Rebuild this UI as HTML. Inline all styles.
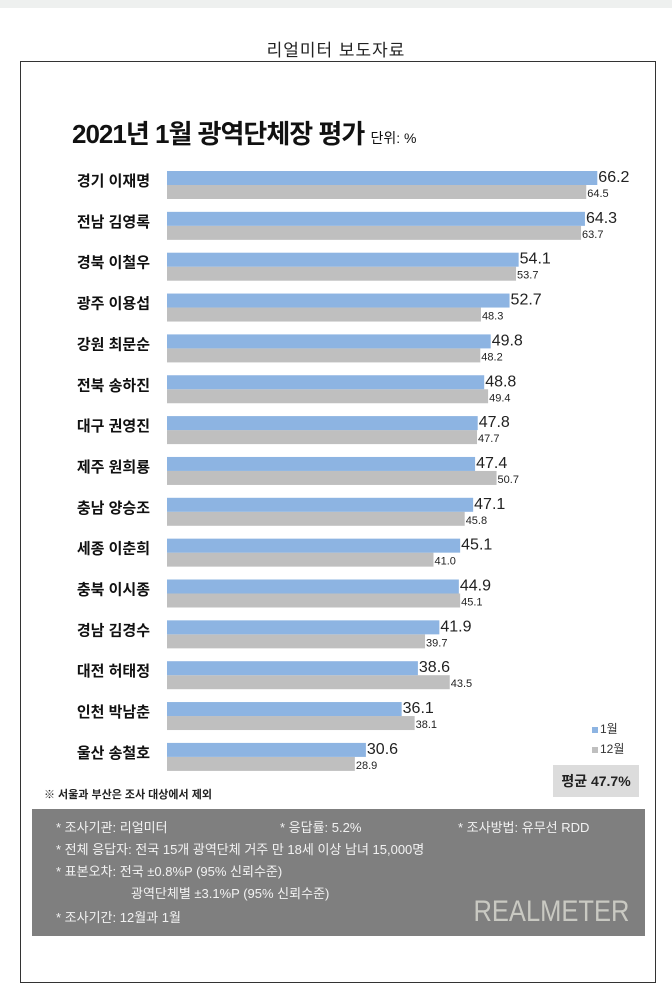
<!DOCTYPE html>
<html><head><meta charset="utf-8">
<style>
body{margin:0;width:672px;height:996px;background:#fff;position:relative;overflow:hidden;font-family:"Liberation Sans","Noto Sans CJK KR",sans-serif;}
.abs{position:absolute;}
</style></head><body>
<div class="abs" style="left:0;top:0;width:672px;height:8px;background:#eef0ef"></div>
<div class="abs" style="left:0;width:672px;top:36px;text-align:center;font-size:17px;color:#222;letter-spacing:1px">리얼미터 보도자료</div>
<div class="abs" style="left:20px;top:61px;width:634px;height:920px;border:1.5px solid #333"></div>
<div class="abs" style="left:72px;top:114px;font-size:26px;font-weight:bold;color:#111;letter-spacing:-1px">2021년 1월 광역단체장 평가 <span style="font-size:14px;font-weight:normal;letter-spacing:0">단위: %</span></div>
<svg class="abs" id="chart" style="left:0;top:0" width="672" height="800"></svg>
<div class="abs" style="left:592px;top:720px;font-size:12px;color:#333"><span style="display:inline-block;width:6px;height:6px;background:#8db4e2;margin-right:2px"></span>1월</div>
<div class="abs" style="left:592px;top:740px;font-size:12px;color:#333"><span style="display:inline-block;width:6px;height:6px;background:#bfbfbf;margin-right:2px"></span>12월</div>
<div class="abs" style="left:553px;top:765px;width:86px;height:32px;background:#dcdcdc;font-size:14px;font-weight:bold;line-height:32px;text-align:center;color:#222">평균 47.7%</div>
<div class="abs" style="left:44px;top:786px;font-size:11px;font-weight:bold;color:#222">※ 서울과 부산은 조사 대상에서 제외</div>
<div class="abs" style="left:32px;top:809px;width:613px;height:127px;background:#7f7f7f;color:#f2f2f2;font-size:13px">
<div class="abs" style="left:24px;top:8px">* 조사기관: 리얼미터</div>
<div class="abs" style="left:248px;top:8px">* 응답률: 5.2%</div>
<div class="abs" style="left:426px;top:8px">* 조사방법: 유무선 RDD</div>
<div class="abs" style="left:24px;top:30px">* 전체 응답자: 전국 15개 광역단체 거주 만 18세 이상 남녀 15,000명</div>
<div class="abs" style="left:24px;top:52px">* 표본오차: 전국 ±0.8%P (95% 신뢰수준)</div>
<div class="abs" style="left:99px;top:74px">광역단체별 ±3.1%P (95% 신뢰수준)</div>
<div class="abs" style="left:24px;top:98px">* 조사기간: 12월과 1월</div>
<div class="abs" style="right:16px;top:86px;font-size:30px;color:#c9c9c2;letter-spacing:0px;transform:scaleX(0.85);transform-origin:right">REALMETER</div>
</div>
<script>
const names=["경기 이재명","전남 김영록","경북 이철우","광주 이용섭","강원 최문순","전북 송하진","대구 권영진","제주 원희룡","충남 양승조","세종 이춘희","충북 이시종","경남 김경수","대전 허태정","인천 박남춘","울산 송철호"];
const jan=[66.2,64.3,54.1,52.7,49.8,48.8,47.8,47.4,47.1,45.1,44.9,41.9,38.6,36.1,30.6];
const dec=[64.5,63.7,53.7,48.3,48.2,49.4,47.7,50.7,45.8,41.0,45.1,39.7,43.5,38.1,28.9];
const svg=document.getElementById('chart');
const NS='http://www.w3.org/2000/svg';
const x0=167, pxPer=6.5;
const xs=v=>x0+v*pxPer;
const yc=i=>180+i*40.85;
function mk(tag,attrs,txt){const e=document.createElementNS(NS,tag);for(const k in attrs)e.setAttribute(k,attrs[k]);if(txt!==undefined)e.textContent=txt;svg.appendChild(e);return e;}
names.forEach((n,i)=>{
  const c=yc(i);
  const l=mk('text',{x:150,y:c+6,'text-anchor':'end','font-size':15,'font-weight':'bold',fill:'#111','font-family':'Liberation Sans, Noto Sans CJK KR, sans-serif'},n);
  
  
  const g=mk('rect',{x:x0,y:c+5,width:xs(dec[i])-x0,height:14,fill:'#bfbfbf'});
  
  
  const b=mk('rect',{x:x0,y:c-9,width:xs(jan[i])-x0,height:14,fill:'#8db4e2'});
  
  
  const t1=mk('text',{x:xs(jan[i])+1,y:c+2,'font-size':16,fill:'#222','font-family':'Liberation Sans, sans-serif'},jan[i].toFixed(1));
  
  
  const t2=mk('text',{x:xs(dec[i])+1,y:c+17,'font-size':11,fill:'#222','font-family':'Liberation Sans, sans-serif'},dec[i].toFixed(1));
  
  
});
</script>
</body></html>
